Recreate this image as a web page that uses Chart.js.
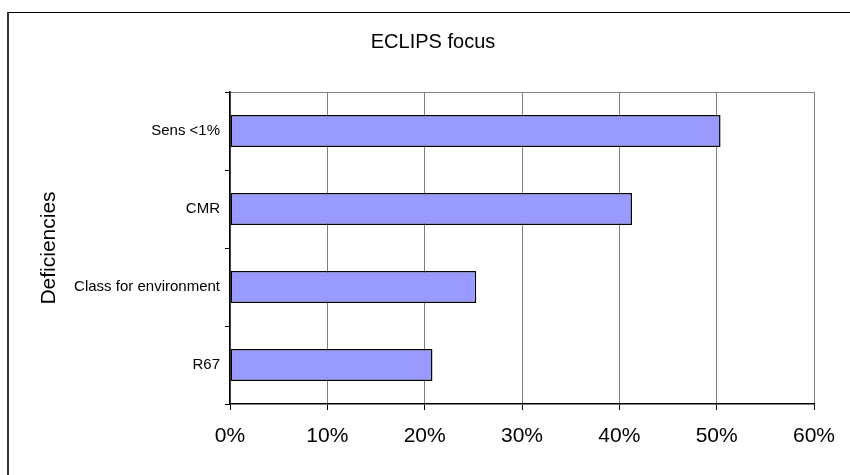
<!DOCTYPE html>
<html>
<head>
<meta charset="utf-8">
<script src="https://cdn.jsdelivr.net/npm/chart.js@4/dist/chart.umd.min.js"></script>
<style>
  html, body { margin: 0; padding: 0; background: #fff; }
  #frame { position: absolute; left: 7px; top: 12px; width: 900px; height: 500px;
           border-top: 1px solid #000; border-left: 2px solid #333; }
  #wrap { position: absolute; left: 0; top: 0; width: 850px; height: 475px; }
</style>
</head>
<body>
<div id="frame"></div>
<div id="wrap"><canvas id="chart"></canvas></div>
<script>
// values
const categories = ['Sens <1%', 'CMR', 'Class for environment', 'R67'];
const shares = [50.4, 41.3, 25.3, 20.8];
const xMin = 0, xMax = 60, xStep = 10;
const chartTitle = 'ECLIPS focus';

const font = 'Liberation Sans, Arial, sans-serif';

// title sits a bit right of the canvas centre, like the original
const titlePlugin = {
  id: 'offsetTitle',
  afterDraw(chart) {
    const c = chart.ctx;
    c.save();
    c.font = '20px ' + font;
    c.fillStyle = '#000';
    c.textAlign = 'center';
    c.textBaseline = 'middle';
    c.fillText(chartTitle, 433, 42);
    c.restore();
  }
};

const ctx = document.getElementById('chart').getContext('2d');
new Chart(ctx, {
  type: 'bar',
  data: {
    labels: categories,
    datasets: [{
      label: 'Deficiencies',
      data: shares,
      backgroundColor: '#9999FF',
      borderColor: '#000',
      borderWidth: 1.5,
      borderSkipped: false,
      categoryPercentage: 1,
      barPercentage: 0.41
    }]
  },
  options: {
    indexAxis: 'y',
    responsive: true,
    maintainAspectRatio: false,
    animation: false,
    layout: { padding: { left: 0, right: 36, top: 92, bottom: 0 } },
    plugins: {
      legend: { display: false },
      tooltip: { enabled: false },
      title: { display: false }
    },
    scales: {
      x: {
        min: xMin,
        max: xMax,
        ticks: {
          stepSize: xStep,
          color: '#000',
          padding: 14,
          font: { family: font, size: 21 },
          callback: v => v + '%'
        },
        grid: { color: '#808080', lineWidth: 1, tickColor: '#000', tickLength: 6 },
        border: { color: '#000', width: 1.5 },
        afterFit: s => { s.height = 71; }
      },
      y: {
        ticks: {
          color: '#000',
          padding: 5,
          font: { family: font, size: 15 }
        },
        grid: {
          offset: true,
          color: c => c.index === 0 ? '#808080' : 'rgba(0,0,0,0)',
          tickColor: '#000',
          tickLength: 5
        },
        border: { color: '#000', width: 1.5 },
        title: {
          display: true,
          text: 'Deficiencies',
          color: '#000',
          font: { family: font, size: 21 },
          padding: { top: 37, bottom: 0 }
        },
        afterFit: s => { s.width = 230; }
      }
    }
  },
  plugins: [titlePlugin]
});
</script>
</body>
</html>
